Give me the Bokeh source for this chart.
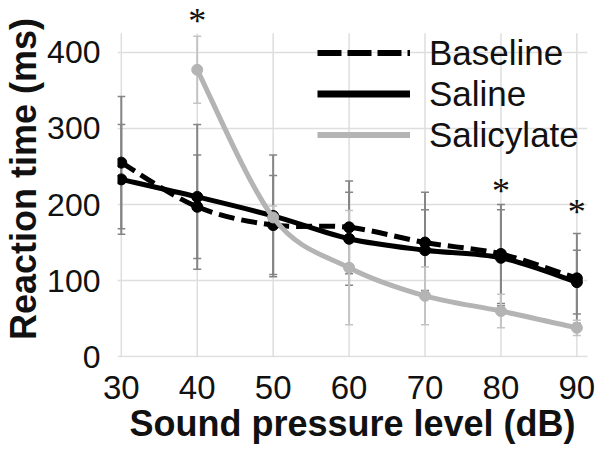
from bokeh.plotting import figure
from bokeh.models import (ColumnDataSource, Whisker, TeeHead, Legend, LegendItem,
                          LabelSet, FixedTicker)
from bokeh.embed import file_html
from bokeh.resources import INLINE

# ---- data ----
x_db = [30, 40, 50, 60, 70, 80, 90]
baseline = [255, 197, 173, 170, 150, 135, 103]
baseline_err = [87, 68, 65, 61, 66, 65, 59]
saline = [233, 210, 185, 155, 140, 130, 98]
saline_err = [72, 95, 80, 61, 53, 63, 42]
sal_x = [40, 50, 60, 70, 80, 90]
salicylate = [377, 183, 117, 80, 60, 38]
salicylate_err = [44, 15, 75, 38, 22, 10]
ast_x = [40, 80, 90]
ast_y = [425, 202, 175]
x_ticks = [30, 40, 50, 60, 70, 80, 90]
y_ticks = [0, 100, 200, 300, 400]
grid_top = 425

FONT = "Liberation Sans"
GREY = "#b4b4b4"
GRID = "#dedede"

p = figure(width=600, height=450, output_backend="svg", toolbar_location=None,
           x_range=(29.5, 91.4), y_range=(-1, 468),
           min_border_left=115, min_border_right=13, min_border_top=0,
           min_border_bottom=93)
p.outline_line_color = None
p.background_fill_color = "white"

for ax in (p.xaxis[0], p.yaxis[0]):
    ax.axis_line_color = None
    ax.major_tick_line_color = None
    ax.minor_tick_line_color = None
    ax.major_label_text_font = FONT
    ax.major_label_text_color = "#111111"
    ax.axis_label_text_font = FONT
    ax.axis_label_text_font_size = "36px"
    ax.axis_label_text_font_style = "bold"
    ax.axis_label_text_color = "#111111"
p.xaxis.major_label_text_font_size = "33px"
p.yaxis.major_label_text_font_size = "32px"

p.xaxis.ticker = FixedTicker(ticks=x_ticks)
p.yaxis.ticker = FixedTicker(ticks=y_ticks)
p.xaxis.axis_label = "Sound pressure level (dB)"
p.yaxis.axis_label = "Reaction time (ms)"
p.xaxis.major_label_standoff = 12
p.yaxis.major_label_standoff = 11
p.xaxis.axis_label_standoff = 1
p.yaxis.axis_label_standoff = 0

p.xgrid.visible = False
p.ygrid.ticker = FixedTicker(ticks=y_ticks)
p.ygrid.grid_line_color = GRID
p.ygrid.grid_line_width = 1.5
# vertical grid lines stop at the top of the value grid
p.segment(x0=x_ticks, y0=[-1] * len(x_ticks), x1=x_ticks,
          y1=[grid_top] * len(x_ticks), line_color=GRID, line_width=1.5,
          level="underlay")


def smooth(xs, ys):
    """Cubic Bezier control points (Catmull-Rom style smoothing) from data."""
    n = len(xs)
    d = dict(x0=[], y0=[], x1=[], y1=[], cx0=[], cy0=[], cx1=[], cy1=[])
    for i in range(n - 1):
        xm, ym = (xs[i - 1], ys[i - 1]) if i > 0 else (xs[i], ys[i])
        xp, yp = (xs[i + 2], ys[i + 2]) if i + 2 < n else (xs[i + 1], ys[i + 1])
        d["x0"].append(xs[i]); d["y0"].append(ys[i])
        d["x1"].append(xs[i + 1]); d["y1"].append(ys[i + 1])
        d["cx0"].append(xs[i] + (xs[i + 1] - xm) / 6)
        d["cy0"].append(ys[i] + (ys[i + 1] - ym) / 6)
        d["cx1"].append(xs[i + 1] - (xp - xs[i]) / 6)
        d["cy1"].append(ys[i + 1] - (yp - ys[i]) / 6)
    return ColumnDataSource(d)


def whiskers(xs, ys, errs, color):
    src = ColumnDataSource(dict(x=xs, upper=[a + b for a, b in zip(ys, errs)],
                                lower=[a - b for a, b in zip(ys, errs)]))
    w = Whisker(source=src, base="x", upper="upper", lower="lower",
                line_color=color, line_width=2, level="underlay",
                upper_head=TeeHead(size=8, line_color=color, line_width=1.5),
                lower_head=TeeHead(size=8, line_color=color, line_width=1.5))
    p.add_layout(w)


whiskers(x_db, baseline, baseline_err, "#858585")
whiskers(x_db, saline, saline_err, "#858585")
whiskers(sal_x, salicylate, salicylate_err, "#c4c4c4")

# Baseline
p.bezier(x0="x0", y0="y0", x1="x1", y1="y1", cx0="cx0", cy0="cy0", cx1="cx1",
         cy1="cy1", source=smooth(x_db, baseline), line_color="black",
         line_width=5, line_dash="16 7")
p.scatter(x_db, baseline, size=11, color="black")
# Saline
p.bezier(x0="x0", y0="y0", x1="x1", y1="y1", cx0="cx0", cy0="cy0", cx1="cx1",
         cy1="cy1", source=smooth(x_db, saline), line_color="black", line_width=5)
p.scatter(x_db, saline, size=11, color="black")
# Salicylate
p.bezier(x0="x0", y0="y0", x1="x1", y1="y1", cx0="cx0", cy0="cy0", cx1="cx1",
         cy1="cy1", source=smooth(sal_x, salicylate), line_color=GREY, line_width=5)
p.scatter(sal_x, salicylate, size=11, color=GREY)

# legend-only renderers (no visible data)
nan = float("nan")
lb = p.line([nan], [nan], line_color="black", line_width=6, line_dash="24 6")
ls = p.line([nan], [nan], line_color="black", line_width=7)
lg = p.line([nan], [nan], line_color=GREY, line_width=6)
legend = Legend(items=[LegendItem(label="Baseline", renderers=[lb]),
                       LegendItem(label="Saline", renderers=[ls]),
                       LegendItem(label="Salicylate", renderers=[lg])],
                location=(200, 202), glyph_width=93, glyph_height=41,
                label_standoff=19, label_text_font=FONT,
                label_text_font_size="35px", label_text_color="#111111",
                padding=0, margin=0, spacing=0,
                background_fill_alpha=0, border_line_alpha=0)
p.add_layout(legend)

ast_src = ColumnDataSource(dict(x=ast_x, y=ast_y, t=["*"] * len(ast_x)))
p.add_layout(LabelSet(x="x", y="y", text="t", source=ast_src,
                      text_font=FONT, text_font_size="36px",
                      text_align="center", text_baseline="alphabetic",
                      text_color="#111111"))

open("out.html", "w").write(file_html(p, INLINE))
